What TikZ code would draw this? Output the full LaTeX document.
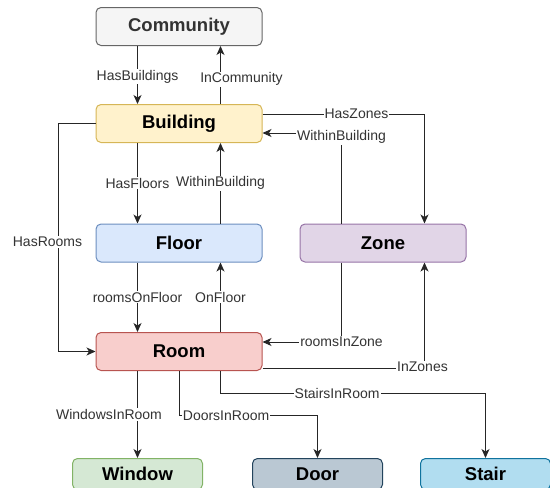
\documentclass[tikz,border=0pt]{standalone}
\usepackage{fontspec}
\setmainfont{Liberation Sans}
\usetikzlibrary{arrows.meta, positioning}

\definecolor{commfill}{HTML}{F5F5F5}
\definecolor{commdraw}{HTML}{666666}
\definecolor{bldgfill}{HTML}{FFF2CC}
\definecolor{bldgdraw}{HTML}{D6B656}
\definecolor{floorfill}{HTML}{DAE8FC}
\definecolor{floordraw}{HTML}{6C8EBF}
\definecolor{zonefill}{HTML}{E1D5E7}
\definecolor{zonedraw}{HTML}{9673A6}
\definecolor{roomfill}{HTML}{F8CECC}
\definecolor{roomdraw}{HTML}{B85450}
\definecolor{winfill}{HTML}{D5E8D4}
\definecolor{windraw}{HTML}{82B366}
\definecolor{doorfill}{HTML}{BAC8D3}
\definecolor{doordraw}{HTML}{23445D}
\definecolor{stairfill}{HTML}{B1DDF0}
\definecolor{stairdraw}{HTML}{10739E}
\definecolor{textgrey}{HTML}{333333}

\begin{document}
\begin{tikzpicture}[
  x=1pt, y=-1pt,
  node distance=58pt and 37pt,
  box/.style={
    draw,
    rounded corners=5pt,
    minimum width=166pt,
    minimum height=38pt,
    align=center,
    line width=1pt,
    font=\bfseries\fontsize{18.5}{22}\selectfont
  },
  leaf/.style={box, minimum width=130pt, minimum height=31pt},
  lbl/.style={fill=white, inner sep=1pt, text=textgrey,
    font=\fontsize{14}{16}\selectfont},
  ->, >={Stealth[length=9pt, width=8pt, inset=2.5pt]},
  line width=1pt, draw=black!85
]

\useasboundingbox (0,0) rectangle (550,488);

% First row
\node[box, fill=commfill, draw=commdraw, text=textgrey] (community) at (179,26.5) {Community};

% Second row
\node[box, fill=bldgfill, draw=bldgdraw, below=of community] (building) {Building};

% Third row
\node[box, fill=floorfill, draw=floordraw, below=80.5pt of building] (floor) {Floor};
\node[box, fill=zonefill, draw=zonedraw, right=of floor] (zone) {Zone};

% Fourth row
\node[box, fill=roomfill, draw=roomdraw, below=69.5pt of floor] (room) {Room};

% Bottom row
\node[leaf, fill=winfill, draw=windraw, below=87pt of room, xshift=-41.5pt] (window) {Window};
\node[leaf, fill=doorfill, draw=doordraw, right=49pt of window] (door) {Door};
\node[leaf, fill=stairfill, draw=stairdraw, right=of door] (stair) {Stair};

% Arrows with labels
\draw ([xshift=-41.5pt]community.south) -- node[lbl, pos=0.53] {HasBuildings} ([xshift=-41.5pt]building.north);
\draw ([xshift=41.5pt]building.north) -- node[lbl, pos=0.43, xshift=21pt] {InCommunity} ([xshift=41.5pt]community.south);
\draw ([xshift=-41.5pt]building.south) -- node[lbl, midway] {HasFloors} ([xshift=-41.5pt]floor.north);
\draw ([xshift=41.5pt]floor.north) -- node[lbl, midway] {WithinBuilding} ([xshift=41.5pt]building.south);
\draw ([xshift=-41.5pt]floor.south) -- node[lbl, midway] {roomsOnFloor} ([xshift=-41.5pt]room.north);
\draw ([xshift=41.5pt]room.north) -- node[lbl, midway] {OnFloor} ([xshift=41.5pt]floor.south);

\draw (building.west) -- ++(-37,0) |- node[lbl, pos=0.26, xshift=-11pt] {HasRooms} (room.west);

\draw ([yshift=9.5pt]building.east) -| node[lbl, pos=0.29] {HasZones} ([xshift=41.5pt]zone.north);
\draw ([xshift=-41.5pt]zone.north) |- node[lbl, pos=0.5, yshift=-4pt] {WithinBuilding} ([yshift=-9.5pt]building.east);
\draw ([xshift=-41.5pt]zone.south) |- node[lbl, pos=0.5] {roomsInZone} ([yshift=9.5pt]room.east);
\draw ([yshift=-17pt]room.east) -| node[lbl, pos=0.5, xshift=-2pt, yshift=2pt] {InZones} ([xshift=41.5pt]zone.south);

\draw ([xshift=-41.5pt]room.south) -- node[lbl, midway, xshift=-28.5pt] {WindowsInRoom} (window.north);
\draw (room.south) -- ++(0,44.5) -| node[lbl, pos=0.17] {DoorsInRoom} (door.north);
\draw ([xshift=41.5pt]room.south) -- ++(0,22.5) -| node[lbl, pos=0.22] {StairsInRoom} (stair.north);

\end{tikzpicture}
\end{document}
